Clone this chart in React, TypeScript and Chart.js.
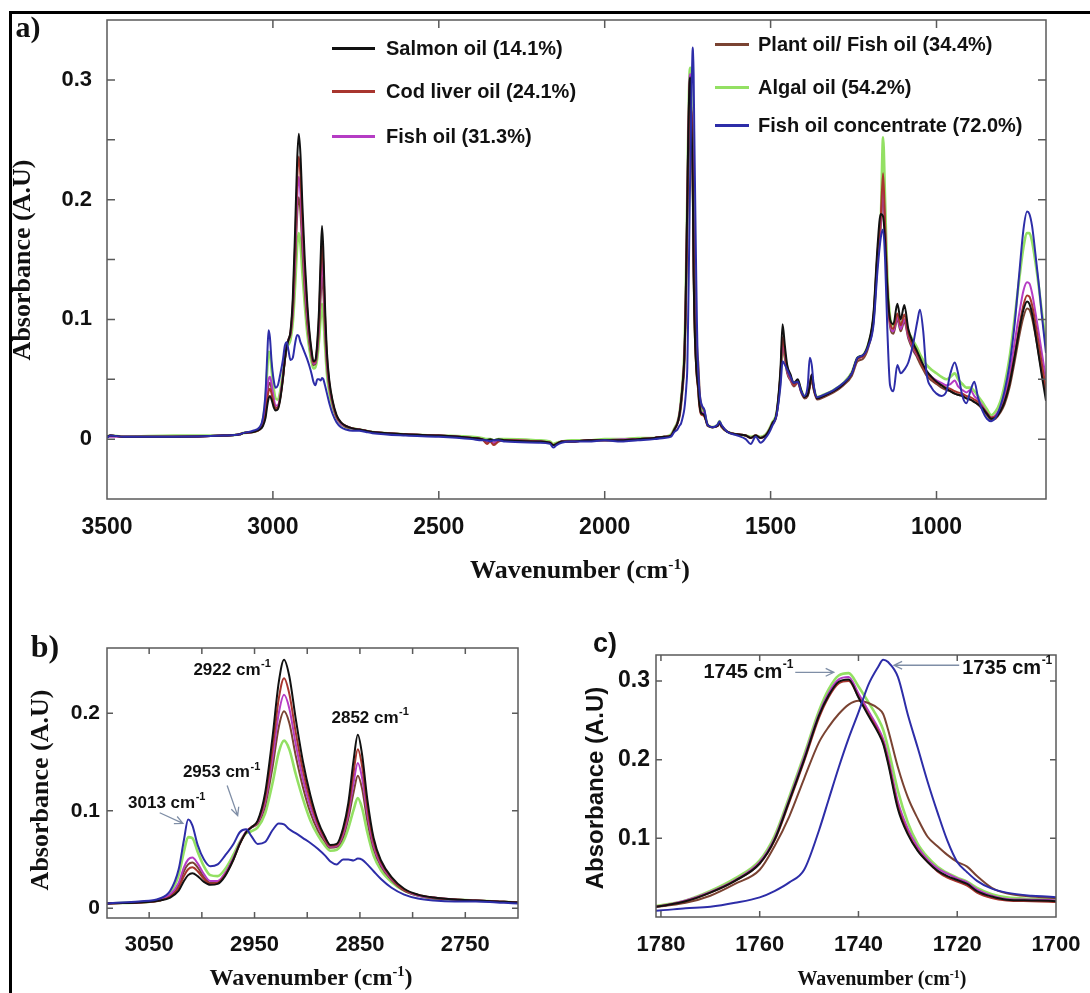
import React, { useEffect, useRef } from 'react';
import { Chart, registerables } from 'chart.js';

Chart.register(...registerables);

const SANS = "'Liberation Sans', Arial, Helvetica, sans-serif";
const SERIF = "'Liberation Serif', 'Times New Roman', Times, serif";

// ---------------- wavenumber grids (cm-1) ----------------
const wnHigh = [3500, 3490, 3450, 3300, 3150, 3100,
  3090, 3060, 3040, 3030, 3022, 3017, 3013, 3009, 3004, 2998,
  2992, 2985, 2978, 2970, 2964, 2958, 2953, 2947, 2940, 2933,
  2927, 2922, 2917, 2911, 2904, 2897, 2890, 2883, 2878, 2872,
  2866, 2861, 2856, 2852, 2848, 2843, 2837, 2830, 2820, 2808,
  2795, 2780, 2760, 2740, 2720, 2700];
const wnMid = [2600, 2500, 2400, 2370, 2355, 2345, 2335, 2320, 2300, 2200,
  2165, 2155, 2145, 2130, 2100, 2050, 2000, 1950, 1900, 1850,
  1820, 1800];
const wnCarbonyl = [1790, 1781, 1775, 1770, 1765, 1760, 1757, 1754, 1751, 1748,
  1746, 1744, 1742, 1740, 1738, 1736, 1735, 1734, 1732, 1730,
  1728, 1726, 1724, 1722, 1720, 1718, 1716, 1713, 1710, 1705,
  1700];
const wnFinger = [1690, 1675, 1660, 1654, 1648, 1630, 1600, 1575, 1560, 1545,
  1530, 1515, 1505, 1495, 1482, 1470, 1464, 1457, 1450, 1440,
  1430, 1418, 1408, 1398, 1388, 1382, 1376, 1370, 1360, 1340,
  1310, 1280, 1255, 1238, 1222, 1205, 1190, 1178, 1168, 1161,
  1155, 1148, 1140, 1130, 1118, 1108, 1097, 1085, 1070, 1058,
  1050, 1040, 1030, 1015, 1000, 985, 970, 958, 945, 935,
  922, 910, 898, 886, 875, 862, 848, 835, 822, 808,
  795, 780, 765, 750, 738, 727, 720, 712, 702, 692,
  682, 670];

// ---------------- Salmon oil (14.1%) ----------------
const salmonHigh = [0.002, 0.003, 0.002, 0.002, 0.003, 0.004,
  0.005, 0.006, 0.008, 0.011, 0.018, 0.028, 0.034, 0.036, 0.033, 0.027,
  0.024, 0.025, 0.033, 0.050, 0.066, 0.078, 0.083, 0.090, 0.118, 0.175,
  0.232, 0.255, 0.238, 0.195, 0.150, 0.116, 0.090, 0.073, 0.065, 0.066,
  0.082, 0.108, 0.152, 0.178, 0.158, 0.112, 0.072, 0.049, 0.032, 0.020,
  0.014, 0.011, 0.009, 0.008, 0.007, 0.006];
const salmonMid = [0.004, 0.003, 0.001, 0.000, -0.001, 0.000, -0.001, 0.000, -0.001, -0.002,
  -0.003, -0.005, -0.004, -0.002, -0.002, -0.001, -0.001, -0.001, 0.000, 0.001,
  0.002, 0.003];
const salmonCarbonyl = [0.008, 0.013, 0.020, 0.031, 0.046, 0.068, 0.098, 0.148, 0.200, 0.256,
  0.282, 0.299, 0.302, 0.279, 0.256, 0.234, 0.220, 0.195, 0.137, 0.105,
  0.084, 0.070, 0.059, 0.052, 0.047, 0.042, 0.033, 0.026, 0.022, 0.021,
  0.020];
const salmonFinger = [0.012, 0.010, 0.011, 0.014, 0.011, 0.006, 0.004, 0.003, 0.001, 0.003,
  0.001, 0.003, 0.007, 0.013, 0.022, 0.060, 0.096, 0.078, 0.062, 0.054,
  0.047, 0.050, 0.041, 0.035, 0.037, 0.045, 0.054, 0.043, 0.034, 0.036,
  0.040, 0.046, 0.055, 0.068, 0.070, 0.080, 0.105, 0.160, 0.188, 0.186,
  0.165, 0.125, 0.100, 0.096, 0.113, 0.100, 0.112, 0.092, 0.080, 0.073,
  0.068, 0.062, 0.057, 0.052, 0.048, 0.045, 0.042, 0.040, 0.038, 0.037,
  0.036, 0.034, 0.033, 0.031, 0.029, 0.026, 0.021, 0.017, 0.018, 0.023,
  0.031, 0.046, 0.068, 0.092, 0.108, 0.115, 0.113, 0.105, 0.088, 0.070,
  0.052, 0.032];

// ---------------- Cod liver oil (24.1%) ----------------
const codHigh = [0.002, 0.003, 0.002, 0.002, 0.003, 0.004,
  0.005, 0.006, 0.008, 0.012, 0.021, 0.033, 0.040, 0.042, 0.038, 0.030,
  0.025, 0.026, 0.034, 0.050, 0.066, 0.078, 0.083, 0.089, 0.113, 0.163,
  0.215, 0.236, 0.220, 0.181, 0.141, 0.110, 0.087, 0.071, 0.064, 0.065,
  0.079, 0.102, 0.140, 0.163, 0.146, 0.104, 0.068, 0.047, 0.031, 0.019,
  0.014, 0.011, 0.009, 0.008, 0.007, 0.006];
const codMid = [0.004, 0.003, 0.001, 0.000, -0.004, -0.002, -0.005, -0.002, -0.001, -0.002,
  -0.003, -0.005, -0.004, -0.002, -0.002, -0.001, -0.001, -0.001, 0.000, 0.001,
  0.002, 0.003];
const codCarbonyl = [0.008, 0.013, 0.020, 0.031, 0.046, 0.068, 0.097, 0.146, 0.198, 0.253,
  0.280, 0.297, 0.300, 0.280, 0.258, 0.236, 0.222, 0.198, 0.140, 0.107,
  0.085, 0.070, 0.058, 0.050, 0.045, 0.040, 0.031, 0.024, 0.021, 0.020,
  0.019];
const codFinger = [0.012, 0.010, 0.011, 0.014, 0.011, 0.006, 0.004, 0.003, 0.001, 0.003,
  0.001, 0.003, 0.007, 0.013, 0.021, 0.055, 0.085, 0.072, 0.058, 0.051,
  0.045, 0.048, 0.040, 0.035, 0.037, 0.044, 0.052, 0.042, 0.034, 0.036,
  0.040, 0.046, 0.055, 0.067, 0.069, 0.079, 0.102, 0.155, 0.185, 0.222,
  0.180, 0.128, 0.098, 0.092, 0.105, 0.095, 0.104, 0.088, 0.077, 0.071,
  0.066, 0.060, 0.055, 0.051, 0.047, 0.045, 0.043, 0.042, 0.040, 0.039,
  0.038, 0.036, 0.035, 0.033, 0.031, 0.027, 0.022, 0.018, 0.019, 0.024,
  0.032, 0.048, 0.070, 0.095, 0.112, 0.120, 0.119, 0.112, 0.097, 0.080,
  0.062, 0.042];

// ---------------- Fish oil (31.3%) ----------------
const fishHigh = [0.002, 0.002, 0.002, 0.002, 0.003, 0.004,
  0.005, 0.006, 0.009, 0.014, 0.026, 0.042, 0.050, 0.052, 0.046, 0.035,
  0.028, 0.028, 0.036, 0.052, 0.067, 0.079, 0.083, 0.088, 0.109, 0.153,
  0.200, 0.219, 0.205, 0.169, 0.132, 0.104, 0.084, 0.070, 0.063, 0.064,
  0.076, 0.097, 0.129, 0.149, 0.134, 0.097, 0.064, 0.045, 0.030, 0.019,
  0.013, 0.011, 0.009, 0.008, 0.007, 0.006];
const fishMid = [0.004, 0.003, 0.001, 0.000, -0.002, -0.001, -0.003, -0.001, -0.001, -0.002,
  -0.003, -0.005, -0.004, -0.002, -0.002, -0.001, -0.001, 0.000, 0.000, 0.001,
  0.002, 0.003];
const fishCarbonyl = [0.008, 0.013, 0.021, 0.032, 0.047, 0.070, 0.100, 0.150, 0.203, 0.258,
  0.285, 0.302, 0.305, 0.284, 0.262, 0.240, 0.226, 0.203, 0.146, 0.112,
  0.089, 0.073, 0.062, 0.055, 0.049, 0.044, 0.035, 0.027, 0.023, 0.022,
  0.021];
const fishFinger = [0.012, 0.010, 0.011, 0.014, 0.011, 0.006, 0.004, 0.003, 0.001, 0.003,
  0.001, 0.003, 0.007, 0.013, 0.021, 0.055, 0.082, 0.070, 0.057, 0.050,
  0.045, 0.048, 0.040, 0.035, 0.038, 0.046, 0.054, 0.043, 0.034, 0.036,
  0.040, 0.046, 0.055, 0.067, 0.069, 0.079, 0.100, 0.150, 0.180, 0.210,
  0.175, 0.125, 0.096, 0.090, 0.102, 0.092, 0.100, 0.086, 0.076, 0.070,
  0.066, 0.061, 0.056, 0.052, 0.049, 0.047, 0.045, 0.046, 0.049, 0.044,
  0.041, 0.039, 0.041, 0.036, 0.033, 0.028, 0.022, 0.018, 0.020, 0.026,
  0.036, 0.054, 0.080, 0.106, 0.124, 0.131, 0.130, 0.122, 0.106, 0.089,
  0.071, 0.050];

// ---------------- Plant oil / Fish oil (34.4%) ----------------
const plantHigh = [0.002, 0.003, 0.002, 0.002, 0.003, 0.004,
  0.005, 0.006, 0.008, 0.013, 0.024, 0.038, 0.045, 0.047, 0.042, 0.032,
  0.026, 0.027, 0.035, 0.051, 0.066, 0.078, 0.083, 0.087, 0.105, 0.144,
  0.186, 0.202, 0.190, 0.157, 0.124, 0.098, 0.080, 0.068, 0.062, 0.063,
  0.073, 0.092, 0.119, 0.136, 0.123, 0.090, 0.061, 0.043, 0.029, 0.018,
  0.013, 0.010, 0.009, 0.008, 0.007, 0.006];
const plantMid = [0.004, 0.003, 0.001, 0.000, -0.003, -0.001, -0.004, -0.001, -0.001, -0.002,
  -0.003, -0.005, -0.004, -0.002, -0.002, -0.001, -0.001, -0.001, 0.000, 0.001,
  0.002, 0.003];
const plantCarbonyl = [0.008, 0.013, 0.018, 0.027, 0.042, 0.060, 0.090, 0.128, 0.176, 0.222,
  0.242, 0.258, 0.270, 0.275, 0.272, 0.265, 0.258, 0.238, 0.190, 0.152,
  0.125, 0.102, 0.090, 0.079, 0.070, 0.064, 0.052, 0.037, 0.030, 0.026,
  0.024];
const plantFinger = [0.011, 0.010, 0.011, 0.013, 0.010, 0.006, 0.004, 0.003, 0.001, 0.003,
  0.001, 0.003, 0.007, 0.012, 0.020, 0.052, 0.080, 0.068, 0.055, 0.049,
  0.044, 0.047, 0.039, 0.034, 0.036, 0.043, 0.050, 0.041, 0.033, 0.035,
  0.039, 0.045, 0.053, 0.065, 0.067, 0.077, 0.098, 0.148, 0.178, 0.205,
  0.172, 0.122, 0.094, 0.088, 0.100, 0.090, 0.098, 0.084, 0.074, 0.068,
  0.063, 0.058, 0.053, 0.049, 0.046, 0.043, 0.041, 0.040, 0.038, 0.037,
  0.036, 0.034, 0.033, 0.031, 0.029, 0.025, 0.020, 0.016, 0.017, 0.022,
  0.029, 0.043, 0.064, 0.087, 0.102, 0.109, 0.108, 0.101, 0.087, 0.071,
  0.055, 0.037];

// ---------------- Algal oil (54.2%) ----------------
const algalHigh = [0.002, 0.003, 0.002, 0.003, 0.003, 0.004,
  0.005, 0.006, 0.009, 0.016, 0.034, 0.058, 0.073, 0.072, 0.058, 0.043,
  0.034, 0.033, 0.040, 0.055, 0.068, 0.077, 0.079, 0.083, 0.097, 0.128,
  0.160, 0.172, 0.163, 0.138, 0.112, 0.090, 0.075, 0.064, 0.059, 0.060,
  0.068, 0.082, 0.101, 0.113, 0.103, 0.078, 0.054, 0.039, 0.027, 0.018,
  0.013, 0.010, 0.009, 0.008, 0.007, 0.006];
const algalMid = [0.004, 0.003, 0.002, 0.001, 0.000, 0.000, -0.001, 0.000, 0.000, -0.001,
  -0.002, -0.004, -0.003, -0.002, -0.001, -0.001, 0.000, 0.000, 0.001, 0.001,
  0.002, 0.004];
const algalCarbonyl = [0.009, 0.014, 0.021, 0.033, 0.049, 0.072, 0.103, 0.153, 0.206, 0.262,
  0.290, 0.307, 0.310, 0.293, 0.273, 0.252, 0.238, 0.215, 0.160, 0.120,
  0.093, 0.076, 0.064, 0.056, 0.050, 0.045, 0.037, 0.029, 0.025, 0.023,
  0.022];
const algalFinger = [0.012, 0.010, 0.012, 0.015, 0.011, 0.006, 0.004, 0.003, 0.002, 0.003,
  0.002, 0.004, 0.008, 0.014, 0.022, 0.052, 0.078, 0.068, 0.057, 0.051,
  0.046, 0.048, 0.041, 0.036, 0.038, 0.045, 0.052, 0.043, 0.035, 0.037,
  0.041, 0.047, 0.056, 0.068, 0.070, 0.080, 0.100, 0.150, 0.182, 0.252,
  0.200, 0.135, 0.102, 0.095, 0.104, 0.096, 0.100, 0.090, 0.082, 0.076,
  0.071, 0.066, 0.062, 0.058, 0.055, 0.052, 0.050, 0.052, 0.055, 0.050,
  0.046, 0.043, 0.043, 0.040, 0.036, 0.031, 0.025, 0.020, 0.023, 0.031,
  0.045, 0.068, 0.100, 0.135, 0.160, 0.172, 0.172, 0.165, 0.148, 0.128,
  0.105, 0.080];

// ---------------- Fish oil concentrate (72.0%) ----------------
const concHigh = [0.001, 0.003, 0.002, 0.002, 0.003, 0.004,
  0.005, 0.007, 0.010, 0.018, 0.040, 0.070, 0.091, 0.085, 0.065, 0.050,
  0.043, 0.045, 0.054, 0.066, 0.078, 0.081, 0.074, 0.066, 0.068, 0.080,
  0.087, 0.086, 0.081, 0.077, 0.072, 0.067, 0.061, 0.054, 0.048, 0.045,
  0.050, 0.050, 0.049, 0.051, 0.050, 0.045, 0.038, 0.030, 0.021, 0.014,
  0.010, 0.008, 0.007, 0.007, 0.006, 0.005];
const concMid = [0.003, 0.002, 0.000, -0.001, -0.001, -0.002, -0.001, -0.001, -0.002, -0.003,
  -0.004, -0.007, -0.005, -0.003, -0.002, -0.002, -0.001, -0.002, -0.001, 0.000,
  0.001, 0.002];
const concCarbonyl = [0.006, 0.008, 0.011, 0.013, 0.018, 0.025, 0.033, 0.044, 0.060, 0.110,
  0.150, 0.190, 0.227, 0.260, 0.295, 0.318, 0.327, 0.324, 0.305, 0.257,
  0.215, 0.172, 0.133, 0.097, 0.070, 0.057, 0.046, 0.036, 0.031, 0.027,
  0.025];
const concFinger = [0.012, 0.010, 0.012, 0.015, 0.012, 0.006, 0.003, 0.000, -0.004, 0.002,
  -0.003, 0.001, 0.005, 0.011, 0.020, 0.045, 0.065, 0.062, 0.058, 0.052,
  0.047, 0.048, 0.040, 0.036, 0.045, 0.068, 0.062, 0.045, 0.035, 0.037,
  0.041, 0.047, 0.055, 0.068, 0.070, 0.078, 0.095, 0.140, 0.168, 0.175,
  0.150, 0.090, 0.045, 0.040, 0.062, 0.055, 0.058, 0.064, 0.080, 0.098,
  0.108, 0.090, 0.055, 0.043, 0.038, 0.036, 0.040, 0.055, 0.064, 0.055,
  0.036, 0.030, 0.040, 0.048, 0.035, 0.024, 0.017, 0.015, 0.018, 0.027,
  0.040, 0.062, 0.095, 0.140, 0.175, 0.190, 0.188, 0.178, 0.155, 0.130,
  0.102, 0.072];

// ---------------- series ----------------
const wavenumbers = [...wnHigh, ...wnMid, ...wnCarbonyl, ...wnFinger];
const seriesNames = ['Salmon oil (14.1%)', 'Cod liver oil (24.1%)', 'Fish oil (31.3%)',
  'Plant oil/ Fish oil (34.4%)', 'Algal oil (54.2%)', 'Fish oil concentrate (72.0%)'];
const seriesColors = ['#111111', '#a8352e', '#b53cc4', '#7a4332', '#93e063', '#2d2da8'];
const seriesValues = [
  [...salmonHigh, ...salmonMid, ...salmonCarbonyl, ...salmonFinger],
  [...codHigh, ...codMid, ...codCarbonyl, ...codFinger],
  [...fishHigh, ...fishMid, ...fishCarbonyl, ...fishFinger],
  [...plantHigh, ...plantMid, ...plantCarbonyl, ...plantFinger],
  [...algalHigh, ...algalMid, ...algalCarbonyl, ...algalFinger],
  [...concHigh, ...concMid, ...concCarbonyl, ...concFinger],
];
// draw order: first dataset ends up on top
const drawOrder = [5, 0, 1, 2, 3, 4];

// ---------------- tick values per panel ----------------
const ticksAX = [1000, 1500, 2000, 2500, 3000, 3500];
const ticksAY = [-0.05, 0, 0.05, 0.1, 0.15, 0.2, 0.25, 0.3, 0.35];
const labelsAY = [0, 0.1, 0.2, 0.3];
const ticksBX = [2700, 2750, 2800, 2850, 2900, 2950, 3000, 3050];
const labelsBX = [2750, 2850, 2950, 3050];
const ticksBY = [0, 0.1, 0.2];
const ticksCX = [1700, 1720, 1740, 1760, 1780];
const ticksCY = [0, 0.1, 0.2, 0.3];
const labelsCY = [0.1, 0.2, 0.3];

const panelAxes = {
  a: { xMin: 670, xMax: 3500, xTicks: ticksAX, xLabels: ticksAX, yMin: -0.05, yMax: 0.35, yTicks: ticksAY, yLabels: labelsAY },
  b: { xMin: 2700, xMax: 3090, xTicks: ticksBX, xLabels: labelsBX, yMin: -0.01, yMax: 0.267, yTicks: ticksBY, yLabels: ticksBY },
  c: { xMin: 1700, xMax: 1781, xTicks: ticksCX, xLabels: ticksCX, yMin: 0, yMax: 0.333, yTicks: ticksCY, yLabels: labelsCY },
};

type Note = { text: string; x: number; y: number; arrow?: number[] };
const notesB: Note[] = [
  { text: '2922 cm', x: 3008, y: 0.244 },
  { text: '2852 cm', x: 2877, y: 0.195 },
  { text: '2953 cm', x: 3018, y: 0.139, arrow: [2976, 0.126, 2966, 0.095] },
  { text: '3013 cm', x: 3070, y: 0.108, arrow: [3040, 0.098, 3018, 0.087] },
];
const notesC: Note[] = [
  { text: '1745 cm', x: 1771.4, y: 0.311, arrow: [1752.8, 0.311, 1745, 0.311] },
  { text: '1735 cm', x: 1719, y: 0.316, arrow: [1719.6, 0.320, 1732.8, 0.320] },
];

function fmtY(v: number) {
  const r = Math.round(v * 100);
  return r === 0 ? '0' : (r / 100).toFixed(1);
}
const has = (list: number[], v: number) => list.some((l) => Math.abs(l - v) < 1e-6);

function framePlugin(tickLen: number) {
  return {
    id: 'frameTicks',
    afterDatasetsDraw(chart: any) {
      const { ctx, chartArea: a, scales } = chart;
      ctx.save();
      ctx.strokeStyle = '#5a5a5a';
      ctx.lineWidth = 1.5;
      ctx.strokeRect(a.left, a.top, a.right - a.left, a.bottom - a.top);
      ctx.beginPath();
      for (const t of scales.x.ticks) {
        const px = scales.x.getPixelForValue(t.value);
        if (px < a.left + 2 || px > a.right - 2) continue;
        ctx.moveTo(px, a.bottom); ctx.lineTo(px, a.bottom - tickLen);
        ctx.moveTo(px, a.top); ctx.lineTo(px, a.top + tickLen);
      }
      for (const t of scales.y.ticks) {
        const py = scales.y.getPixelForValue(t.value);
        if (py < a.top + 2 || py > a.bottom - 2) continue;
        ctx.moveTo(a.left, py); ctx.lineTo(a.left + tickLen, py);
        ctx.moveTo(a.right, py); ctx.lineTo(a.right - tickLen, py);
      }
      ctx.stroke();
      ctx.restore();
    },
  };
}

function notesPlugin(notes: Note[], size: number) {
  return {
    id: 'peakNotes',
    afterDatasetsDraw(chart: any) {
      const { ctx, scales } = chart;
      const X = scales.x, Y = scales.y;
      ctx.save();
      for (const n of notes) {
        const px = X.getPixelForValue(n.x), py = Y.getPixelForValue(n.y);
        ctx.font = `bold ${size}px ${SANS}`;
        ctx.fillStyle = '#111';
        ctx.textAlign = 'left';
        ctx.textBaseline = 'middle';
        ctx.fillText(n.text, px, py);
        const w = ctx.measureText(n.text).width;
        ctx.font = `bold ${Math.round(size * 0.62)}px ${SANS}`;
        ctx.fillText('-1', px + w + 0.5, py - size * 0.36);
        if (n.arrow) {
          const x1 = X.getPixelForValue(n.arrow[0]), y1 = Y.getPixelForValue(n.arrow[1]);
          const x2 = X.getPixelForValue(n.arrow[2]), y2 = Y.getPixelForValue(n.arrow[3]);
          const ang = Math.atan2(y2 - y1, x2 - x1);
          const hl = 9;
          ctx.strokeStyle = '#7f8ea6';
          ctx.lineWidth = 1.3;
          ctx.beginPath();
          ctx.moveTo(x1, y1); ctx.lineTo(x2, y2);
          ctx.moveTo(x2 - hl * Math.cos(ang - 0.45), y2 - hl * Math.sin(ang - 0.45));
          ctx.lineTo(x2, y2);
          ctx.lineTo(x2 - hl * Math.cos(ang + 0.45), y2 - hl * Math.sin(ang + 0.45));
          ctx.stroke();
        }
      }
      ctx.restore();
    },
  };
}

type Spec = {
  left: number; top: number; width: number; height: number;
  pad: { left: number; top: number; right: number; bottom: number };
  yWidth: number; xHeight: number;
  axes: any;
  xFont: number; yFont: number; xPad: number; yPad: number;
  tickLen: number; lineWidth: number;
  notes: Note[]; noteSize: number;
};

function Panel({ spec }: { spec: Spec }) {
  const ref = useRef<HTMLCanvasElement>(null);
  useEffect(() => {
    const ax = spec.axes;
    const datasets = drawOrder.map((si) => ({
      label: seriesNames[si],
      data: wavenumbers.map((w, i) => ({ x: w, y: seriesValues[si][i] })),
      borderColor: seriesColors[si],
      borderWidth: si === 4 ? spec.lineWidth + 0.6 : spec.lineWidth,
      pointRadius: 0,
      fill: false,
      cubicInterpolationMode: 'monotone' as const,
    }));
    const chart = new Chart(ref.current as HTMLCanvasElement, {
      type: 'line',
      data: { datasets },
      options: {
        responsive: false,
        animation: false,
        devicePixelRatio: 1,
        events: [],
        layout: { padding: spec.pad },
        plugins: { legend: { display: false }, tooltip: { enabled: false } },
        scales: {
          x: {
            type: 'linear', reverse: true, min: ax.xMin, max: ax.xMax,
            grid: { display: false, drawTicks: false }, border: { display: false },
            ticks: {
              autoSkip: false, maxRotation: 0, minRotation: 0,
              padding: spec.xPad, color: '#111',
              font: { family: SANS, size: spec.xFont, weight: 'bold' },
              callback: (v: any) => (has(ax.xLabels, v) ? String(Math.round(v)) : ''),
            },
            afterBuildTicks: (s: any) => { s.ticks = ax.xTicks.map((v: number) => ({ value: v })); },
            afterFit: (s: any) => { s.height = spec.xHeight; s.paddingLeft = 0; s.paddingRight = 0; },
          },
          y: {
            type: 'linear', min: ax.yMin, max: ax.yMax,
            grid: { display: false, drawTicks: false }, border: { display: false },
            ticks: {
              autoSkip: false, padding: spec.yPad, color: '#111',
              font: { family: SANS, size: spec.yFont, weight: 'bold' },
              callback: (v: any) => (has(ax.yLabels, v) ? fmtY(v) : ''),
            },
            afterBuildTicks: (s: any) => { s.ticks = ax.yTicks.map((v: number) => ({ value: v })); },
            afterFit: (s: any) => { s.width = spec.yWidth; s.paddingTop = 0; s.paddingBottom = 0; },
          },
        },
      } as any,
      plugins: [framePlugin(spec.tickLen), notesPlugin(spec.notes, spec.noteSize)],
    });
    return () => chart.destroy();
  }, []);
  return (
    <canvas
      ref={ref}
      width={spec.width}
      height={spec.height}
      style={{ position: 'absolute', left: spec.left, top: spec.top, width: spec.width, height: spec.height }}
    />
  );
}

const specA: Spec = {
  left: 0, top: 0, width: 1090, height: 600,
  pad: { left: 0, top: 20, right: 44, bottom: 0 }, yWidth: 107, xHeight: 101,
  axes: panelAxes.a, xFont: 23, yFont: 22, xPad: 15, yPad: 15, tickLen: 8, lineWidth: 2,
  notes: [], noteSize: 18,
};
const specB: Spec = {
  left: 0, top: 600, width: 545, height: 393,
  pad: { left: 0, top: 48, right: 27, bottom: 0 }, yWidth: 107, xHeight: 75,
  axes: panelAxes.b, xFont: 22, yFont: 21, xPad: 14, yPad: 7, tickLen: 6, lineWidth: 2,
  notes: notesB, noteSize: 17,
};
const specC: Spec = {
  left: 560, top: 600, width: 530, height: 393,
  pad: { left: 0, top: 55, right: 34, bottom: 0 }, yWidth: 96, xHeight: 76,
  axes: panelAxes.c, xFont: 22, yFont: 23, xPad: 15, yPad: 6, tickLen: 6, lineWidth: 2,
  notes: notesC, noteSize: 20,
};

const legendLeft = [0, 1, 2];
const legendRight = [3, 4, 5];
const legendLeftRows = [48, 91, 136];
const legendRightRows = [44, 87, 125];

function Centered({ x, y, rotate, style, children }: any) {
  return (
    <div
      style={{
        position: 'absolute', left: x, top: y, whiteSpace: 'nowrap', lineHeight: 1,
        transform: `translate(-50%, -50%)${rotate ? ' rotate(-90deg)' : ''}`,
        ...style,
      }}
    >
      {children}
    </div>
  );
}

function WaveTitle() {
  return (
    <>Wavenumber (cm<sup style={{ fontSize: '0.6em', verticalAlign: '0.6em', lineHeight: 0 }}>-1</sup>)</>
  );
}

export default function App() {
  const serifBold = { fontFamily: SERIF, fontWeight: 'bold', color: '#111' };
  const sansBold = { fontFamily: SANS, fontWeight: 'bold', color: '#111' };
  return (
    <div style={{ position: 'absolute', left: 0, top: 0, width: 1090, height: 993, background: '#fff', overflow: 'hidden' }}>
      <div style={{ position: 'absolute', left: 9, top: 11, width: 1090, height: 990, borderTop: '3px solid #000', borderLeft: '3px solid #000' }} />
      <Panel spec={specA} />
      <Panel spec={specB} />
      <Panel spec={specC} />

      {/* legend */}
      {legendLeft.map((si, k) => (
        <div key={'l' + si} style={{ position: 'absolute', left: 332, top: legendLeftRows[k] - 14, height: 28, display: 'flex', alignItems: 'center', whiteSpace: 'nowrap' }}>
          <span style={{ display: 'inline-block', width: 43, height: 3, background: seriesColors[si], marginRight: 11 }} />
          <span style={{ ...sansBold, fontSize: 20 }}>{seriesNames[si]}</span>
        </div>
      ))}
      {legendRight.map((si, k) => (
        <div key={'r' + si} style={{ position: 'absolute', left: 715, top: legendRightRows[k] - 14, height: 28, display: 'flex', alignItems: 'center', whiteSpace: 'nowrap' }}>
          <span style={{ display: 'inline-block', width: 34, height: 3, background: seriesColors[si], marginRight: 9 }} />
          <span style={{ ...sansBold, fontSize: 20 }}>{seriesNames[si]}</span>
        </div>
      ))}

      {/* panel labels */}
      <Centered x={28} y={27} style={{ ...serifBold, fontSize: 30 }}>a)</Centered>
      <Centered x={45} y={646} style={{ ...serifBold, fontSize: 32 }}>b)</Centered>
      <Centered x={605} y={643} style={{ ...sansBold, fontSize: 27 }}>c)</Centered>

      {/* axis titles */}
      <Centered x={580} y={570} style={{ ...serifBold, fontSize: 26 }}><WaveTitle /></Centered>
      <Centered x={22} y={260} rotate style={{ ...serifBold, fontSize: 26 }}>Absorbance (A.U)</Centered>
      <Centered x={311} y={977} style={{ ...serifBold, fontSize: 24 }}><WaveTitle /></Centered>
      <Centered x={40} y={790} rotate style={{ ...serifBold, fontSize: 26 }}>Absorbance (A.U)</Centered>
      <Centered x={882} y={978} style={{ ...serifBold, fontSize: 20 }}><WaveTitle /></Centered>
      <Centered x={595} y={788} rotate style={{ ...sansBold, fontSize: 24 }}>Absorbance (A.U)</Centered>
    </div>
  );
}
